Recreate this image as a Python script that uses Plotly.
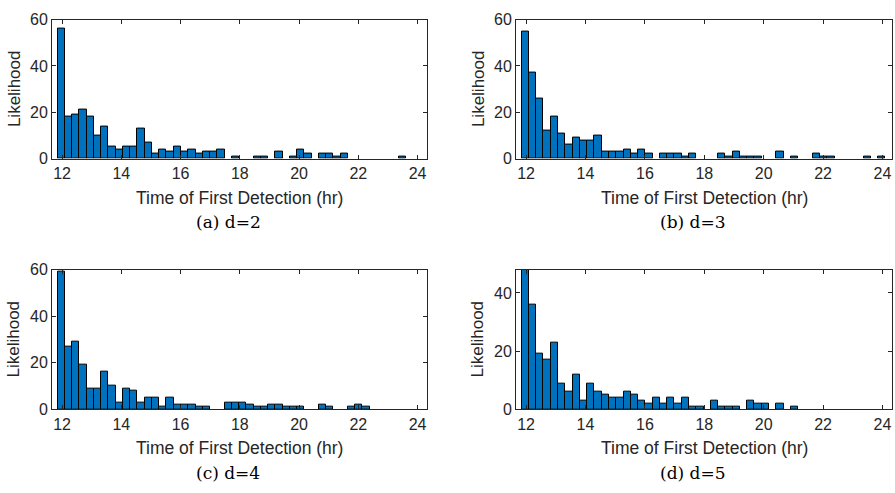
import plotly.graph_objects as go

W, H = 895, 493

bin_start = 11.85
bin_width = 0.245

counts_d2 = [56, 18, 19, 21, 18, 10, 14, 5, 4, 5, 5, 13, 7, 2, 4, 3, 5, 3, 4, 2,
             3, 3, 4, 0, 1, 0, 0, 1, 1, 0, 3, 0, 1, 4, 2, 0, 2, 2, 1, 2,
             0, 0, 0, 0, 0, 0, 0, 1, 0, 0]
counts_d3 = [55, 37, 26, 12, 18, 11, 6, 9, 8, 8, 10, 3, 3, 3, 4, 2, 4, 2, 0, 2,
             2, 2, 1, 2, 0, 0, 0, 2, 1, 3, 1, 1, 1, 0, 0, 3, 0, 1, 0, 0,
             2, 1, 1, 0, 0, 0, 0, 1, 0, 1]
counts_d4 = [59, 27, 29, 19, 9, 9, 16, 10, 3, 9, 8, 3, 5, 5, 1, 5, 2, 2, 2, 1,
             1, 0, 0, 3, 3, 3, 2, 1, 1, 2, 2, 1, 1, 1, 0, 0, 2, 1, 0, 0,
             1, 2, 1, 0, 0, 0, 0, 0, 0, 0]
counts_d5 = [48, 36, 19, 17, 23, 9, 6, 12, 3, 9, 6, 5, 4, 4, 6, 5, 3, 2, 4, 2,
             4, 2, 4, 1, 1, 0, 3, 1, 1, 1, 0, 3, 2, 2, 0, 2, 0, 1, 0, 0,
             0, 0, 0, 0, 0, 0, 0, 0, 0, 0]

captions = ["(a) d=2", "(b) d=3", "(c) d=4", "(d) d=5"]
series = [counts_d2, counts_d3, counts_d4, counts_d5]
y_ranges = [[0, 60], [0, 60], [0, 60], [0, 48]]
y_ticks = [[0, 20, 40, 60], [0, 20, 40, 60], [0, 20, 40, 60], [0, 20, 40]]
x_range = [11.66, 24.32]
x_ticks = [12, 14, 16, 18, 20, 22, 24]

# pixel boxes of the four axes: (left, right, top, bottom)
boxes = [(52, 427, 12, 156), (516, 892, 12, 156),
         (52, 427, 271, 415.7), (516, 892, 271, 415.7)]

fig = go.Figure()
FONT = "Liberation Sans, Arial, Helvetica, sans-serif"
TXT = "#262626"

for i, (counts, box) in enumerate(zip(series, boxes)):
    n = i + 1
    xs, ys = [], []
    for k, c in enumerate(counts):
        if c > 0:
            xs.append(bin_start + bin_width * (k + 0.5))
            ys.append(c)
    fig.add_trace(go.Bar(
        x=xs, y=ys, width=bin_width,
        marker=dict(color="#0072BD", line=dict(color="black", width=1)),
        xaxis="x" if n == 1 else f"x{n}", yaxis="y" if n == 1 else f"y{n}",
        showlegend=False, hoverinfo="x+y"))
    l, r, t, b = box
    xd = [l / W, r / W]
    yd = [1 - b / H, 1 - t / H]
    axcommon = dict(showline=True, mirror="ticks", linecolor=TXT, linewidth=1,
                    ticks="inside", ticklen=4, tickwidth=1, tickcolor=TXT,
                    showgrid=False, zeroline=False,
                    tickfont=dict(family=FONT, size=16, color=TXT))
    xname = "xaxis" if n == 1 else f"xaxis{n}"
    yname = "yaxis" if n == 1 else f"yaxis{n}"
    fig.layout[xname] = dict(domain=xd, range=x_range, tickvals=x_ticks,
                             anchor="y" if n == 1 else f"y{n}", **axcommon)
    fig.layout[yname] = dict(domain=yd, range=y_ranges[i], tickvals=y_ticks[i],
                             anchor="x" if n == 1 else f"x{n}", **axcommon)
    # axis titles and caption
    cx = (l + r) / 2
    fig.add_annotation(x=cx / W, y=1 - (b + 40.5) / H, xref="paper", yref="paper",
                       text="Time of First Detection (hr)", showarrow=False,
                       font=dict(family=FONT, size=17.5, color=TXT),
                       xanchor="center", yanchor="middle")
    fig.add_annotation(x=(l - 38) / W, y=1 - ((t + b) / 2) / H, xref="paper", yref="paper",
                       text="Likelihood", textangle=-90, showarrow=False,
                       font=dict(family=FONT, size=17, color=TXT),
                       xanchor="center", yanchor="middle")
    fig.add_annotation(x=(l + 176.5) / W, y=1 - (b + 65.7) / H, xref="paper", yref="paper",
                       text=captions[i], showarrow=False,
                       font=dict(family="DejaVu Serif, Liberation Serif, serif", size=17, color="black"),
                       xanchor="center", yanchor="middle")

fig.update_layout(width=W, height=H, margin=dict(l=0, r=0, t=0, b=0),
                  plot_bgcolor="white", paper_bgcolor="white", bargap=0)
fig.write_html("out.html")
